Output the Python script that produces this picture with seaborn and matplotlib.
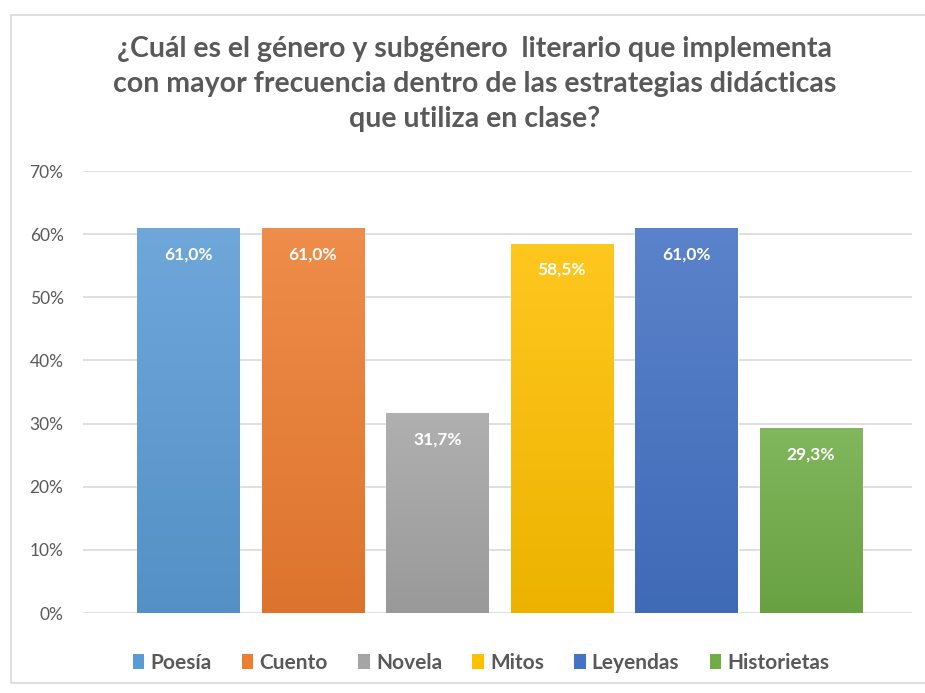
import numpy as np
import seaborn as sns
import matplotlib.pyplot as plt
import matplotlib.colors as mcolors
from matplotlib.patches import Rectangle, Patch
from matplotlib.ticker import FuncFormatter

sns.set_theme(style='white')
plt.rcParams['font.family'] = ['Lato', 'DejaVu Sans']

titulo = '¿Cuál es el género y subgénero  literario que implementa\ncon mayor frecuencia dentro de las estrategias didácticas\nque utiliza en clase?'
generos = ['Poesía', 'Cuento', 'Novela', 'Mitos', 'Leyendas', 'Historietas']
porcentajes = [61.0, 61.0, 31.7, 58.5, 61.0, 29.3]
colores = ['#5B9BD5', '#ED7D31', '#A5A5A5', '#FFC000', '#4472C4', '#70AD47']
gris = '#595959'


def degradado(color):
    # claro arriba, base abajo (como el relleno de Excel)
    c = np.array(mcolors.to_rgb(color))
    arriba = c + (1 - c) * 0.12
    abajo = c * 0.93
    t = np.linspace(0, 1, 100)[:, None]
    filas = arriba * (1 - t) + abajo * t
    return filas[:, None, :]


fig = plt.figure(figsize=(9.25, 6.93), dpi=100)
ax = fig.add_axes([83 / 925, 80 / 693, 829 / 925, 442 / 693])

sns.barplot(x=generos, y=porcentajes, hue=generos, palette=colores,
            width=0.82, saturation=1, legend=False, ax=ax, zorder=3)

ax.set_yticks(range(0, 71, 10))
ax.yaxis.set_major_formatter(FuncFormatter(lambda v, p: f'{v:.0f}%'))
ax.tick_params(axis='y', labelsize=12.5, labelcolor=gris, length=0, pad=14)
ax.set_xticks([])
ax.set_xlabel('')
ax.set_ylabel('')
for s in ax.spines.values():
    s.set_visible(False)
ax.grid(axis='y', color='#d9d9d9', linewidth=1.2, zorder=0)
ax.set_axisbelow(True)

# relleno degradado y etiquetas
for barra, color, v in zip(ax.patches, colores, porcentajes):
    x0, y0 = barra.get_x(), barra.get_y()
    w, h = barra.get_width(), barra.get_height()
    img = ax.imshow(degradado(color), extent=[x0, x0 + w, y0, y0 + h],
                    aspect='auto', origin='upper', zorder=4)
    img.set_clip_path(barra)
    ax.annotate(f'{v:.1f}%'.replace('.', ','), xy=(x0 + w / 2, h),
                xytext=(0, -19), textcoords='offset points',
                ha='center', va='center', color='white', fontsize=12.5,
                fontweight='bold', zorder=5)
ax.set_xlim(-0.843, 5.81)
ax.set_ylim(0, 70)

fig.text(0.513, 1 - 84 / 693, titulo, ha='center', va='center',
         multialignment='center', fontsize=20.5, fontweight='bold',
         color=gris, linespacing=1.42)

handles = [Patch(facecolor=c, edgecolor='none') for c in colores]
fig.legend(handles, generos, loc='center', bbox_to_anchor=(481 / 925, 1 - 663 / 693),
           ncol=6, frameon=False, handlelength=0.55, handleheight=0.75,
           handletextpad=0.3, columnspacing=1.45,
           prop={'size': 15, 'weight': 'bold'}, labelcolor=gris)

# borde del gráfico
fig.add_artist(Rectangle((11 / 925, 10 / 693), 1.2, 1 - 25 / 693,
                         transform=fig.transFigure, fill=False,
                         edgecolor='#d9d9d9', linewidth=1.2))

fig.savefig('out.png', dpi=100, facecolor='white')
